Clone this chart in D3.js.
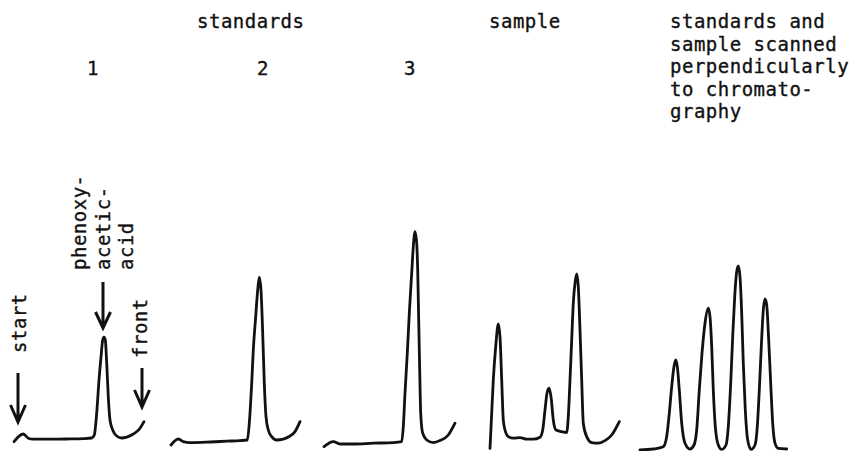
<!DOCTYPE html>
<html>
<head>
<meta charset="utf-8">
<script src="https://cdn.jsdelivr.net/npm/d3@7"></script>
<style>
  html, body { margin: 0; padding: 0; background: #fff; }
  svg { display: block; }
  text { font-family: 'DejaVu Sans Mono', monospace; font-size: 19px; letter-spacing: 0.5px; fill: #111; stroke: #111; stroke-width: 0.35px; }
</style>
</head>
<body>
<svg id="chart" width="854" height="451"></svg>
<script>
// ---------- DATA (distance along scan, relative detector response) ----------
const panels = ["1", "2", "3", "sample", "perpendicular"];

const traceStd1 = [
  [0,2.2],[0.93,6],[1.43,3.9],[1.9,3.4],[3.6,3.4],[5.27,3.5],[6.93,3.7],[7.77,4],[8.03,5.5],
  [8.27,16.5],[8.5,33],[8.7,44.5],[8.87,53],[9.0,54.4],[9.13,53],[9.27,41.5],[9.43,24.5],
  [9.6,13],[9.87,8],[10.27,5],[10.77,4],[11.27,4.4],[11.93,6],[12.53,8.4],[13.0,12.2]
];
const traceStd2 = [
  [0.05,0.5],[0.78,3.5],[1.28,2.2],[1.95,1.7],[3.95,2],[5.62,2.4],[6.95,2.7],[7.68,3],
  [7.88,11.4],[8.12,31.4],[8.28,48],[8.52,64.7],[8.72,78],[8.88,84.4],[9.05,78],[9.22,56.4],
  [9.38,31.4],[9.55,14.7],[9.78,8],[10.12,4.7],[10.62,3],[11.28,3.4],[11.95,5],[12.45,7.2],[12.95,12.2]
];
const traceStd3 = [
  [-0.3,-0.3],[0.63,2.2],[1.3,1],[2.63,1],[4.63,1.4],[6.63,1.7],[7.47,2.2],[7.63,9.7],
  [7.8,26.4],[8.03,46.4],[8.23,66.4],[8.47,86.4],[8.63,99.7],[8.8,107.2],[8.97,101.4],
  [9.07,88],[9.17,63],[9.27,38],[9.37,16.4],[9.57,6.4],[9.97,3],[10.63,1.7],[11.3,2.7],
  [12.13,5.5],[12.8,11.4]
];
const traceSample = [
  [0.65,-1.2],[0.82,16.4],[0.98,33],[1.22,49.7],[1.48,61],[1.65,54.7],[1.82,33],[1.98,13],
  [2.15,8],[2.48,4.7],[2.98,3.9],[3.65,4.2],[4.32,3.4],[4.98,3.4],[5.65,4.4],[5.92,8],
  [6.15,18],[6.35,26.4],[6.55,28.9],[6.75,24.7],[6.98,13],[7.25,8],[7.82,7.2],[8.32,6.7],
  [8.48,14.7],[8.65,33],[8.82,53],[8.98,71.4],[9.15,81.4],[9.32,86],[9.48,79.7],[9.65,58],
  [9.82,33],[9.98,11.4],[10.32,4.7],[10.82,1.7],[11.48,1.4],[12.15,2.7],[12.82,5.5],[13.58,12.2]
];
const tracePerp = [
  [0,-2],[1.33,-1.5],[2.33,-0.35],[2.67,4.7],[2.93,16.4],[3.17,29.7],[3.4,39.7],[3.57,43],
  [3.73,39.7],[3.93,28],[4.17,11.4],[4.5,1.4],[5.0,-1.5],[5.4,0.5],[5.67,8],[5.93,28],
  [6.2,46.4],[6.5,61.4],[6.83,68.9],[7.0,64.7],[7.17,49.7],[7.33,28],[7.53,9.7],[7.83,0.5],
  [8.17,-1.7],[8.6,0.5],[8.83,9.7],[9.07,31.4],[9.27,54.7],[9.47,74.7],[9.67,87.2],[9.83,90],
  [10.0,84.7],[10.17,66.4],[10.33,41.4],[10.53,18],[10.77,3],[11.1,-1.7],[11.5,0.5],[11.73,9.7],
  [11.93,28],[12.13,49.7],[12.33,68],[12.5,73.5],[12.67,70.5],[12.87,53],[13.07,31.4],
  [13.27,11.4],[13.5,1.4],[13.83,-1.2],[14.67,-1.5]
];
const traces = [traceStd1, traceStd2, traceStd3, traceSample, tracePerp];

// labels
const groupLabels = ["standards", "sample"];
const standardNumbers = ["1", "2", "3"];
const perpLabelLines = ["standards and", "sample scanned", "perpendicularly", "to chromato-", "graphy"];
const markerNames = ["start", "front"];
const markerDist = [0.4, 12.8];           // marker positions along scan of standard 1
const compoundLines = ["phenoxy-", "acetic-", "acid"];
const compoundDist = 8.9;                  // peak position of the compound in standard 1

// ---------- SCALES ----------
const svg = d3.select("#chart");
const panelX = d3.scalePoint().domain(panels).range([14, 640]);
const distX = d3.scaleLinear().domain([0, 10]).range([0, 100]);
const y = d3.scaleLinear().domain([0, 100]).range([446, 246]);

const xAt = (panel, d) => panelX(panel) + distX(d);

// ---------- TRACES ----------
const line = d3.line().curve(d3.curveMonotoneX);
svg.append("g").selectAll("path")
  .data(traces)
  .join("path")
  .attr("d", (t, i) => line(t.map(p => [xAt(panels[i], p[0]), y(p[1])])))
  .attr("fill", "none")
  .attr("stroke", "#111")
  .attr("stroke-width", 2.8)
  .attr("stroke-linejoin", "round")
  .attr("stroke-linecap", "round");

// ---------- HEADER TEXT ----------
const hdr = svg.append("g");
const groupX = [197, 489];
hdr.selectAll("text.grp").data(groupLabels).join("text")
  .attr("class", "grp").attr("x", (d, i) => groupX[i]).attr("y", 28).text(d => d);

const numX = [93, 263, 410];
hdr.selectAll("text.num").data(standardNumbers).join("text")
  .attr("class", "num").attr("x", (d, i) => numX[i]).attr("y", 75)
  .attr("text-anchor", "middle").text(d => d);

hdr.selectAll("text.perp").data(perpLabelLines).join("text")
  .attr("class", "perp").attr("x", 670).attr("y", (d, i) => 28 + i * 22.6).text(d => d);

// ---------- ANNOTATIONS (standard 1) ----------
function arrow(g, x, y0, y1, w, h) {
  g.append("path")
    .attr("d", `M${x},${y0}L${x},${y1}M${x - w},${y1 - h}L${x},${y1}L${x + w},${y1 - h}`)
    .attr("fill", "none").attr("stroke", "#111").attr("stroke-width", 3)
    .attr("stroke-linecap", "butt").attr("stroke-linejoin", "miter");
}
const ann = svg.append("g");
const markerArrowY = [[373, 422], [368, 407]];
const markerTextPos = [[26, 353], [147, 358]];
markerNames.forEach((m, i) => {
  const x = xAt(panels[0], markerDist[i]);
  arrow(ann, x, markerArrowY[i][0], markerArrowY[i][1], 7.5, 17);
  ann.append("text")
    .attr("transform", `translate(${markerTextPos[i][0]},${markerTextPos[i][1]}) rotate(-90)`)
    .text(m);
});
const cx = xAt(panels[0], compoundDist);
arrow(ann, cx, 282, 328, 7.5, 16);
const compoundBase = [86, 110, 133];
compoundLines.forEach((t, i) => {
  ann.append("text")
    .attr("transform", `translate(${compoundBase[i]},270) rotate(-90)`)
    .text(t);
});
</script>
</body>
</html>
